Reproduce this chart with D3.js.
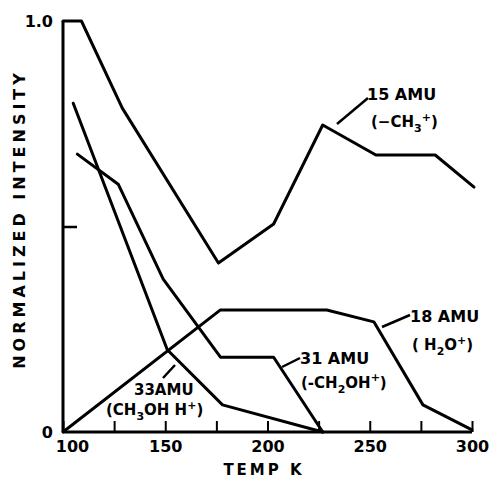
<!DOCTYPE html>
<html>
<head>
<meta charset="utf-8">
<script src="https://cdn.jsdelivr.net/npm/d3@7"></script>
<style>
  html, body { margin: 0; padding: 0; background: #fff; }
  svg { display: block; font-family: 'DejaVu Sans', sans-serif; font-weight: bold; }
</style>
</head>
<body>
<div id="chart"></div>
<script>
const W = 491, H = 479
const MARGIN = { top: 21, right: 19, bottom: 47, left: 63 }

// values (temperature K, normalized intensity)
const amu15T = [100, 109, 129, 176, 203, 227, 253, 282, 301]
const amu15I = [1.0, 1.0, 0.788, 0.411, 0.506, 0.747, 0.674, 0.674, 0.596]

const amu31T = [107, 127, 149, 177, 203, 227]
const amu31I = [0.676, 0.603, 0.372, 0.182, 0.182, 0.0]

const amu33T = [105, 151, 178, 227]
const amu33I = [0.80, 0.20, 0.066, 0.0]

const amu18T = [100, 177, 229, 252, 276, 300]
const amu18I = [0.0, 0.297, 0.297, 0.268, 0.066, 0.005]

const xTicks = [100, 125, 150, 175, 200, 225, 250, 275, 300]
const xLabels = [100, 150, 200, 250, 300]
const yTicks = [0, 0.5, 1.0]
const yLabels = { 0: '0', 1: '1.0' }

const innerW = W - MARGIN.left - MARGIN.right
const innerH = H - MARGIN.top - MARGIN.bottom

const x = d3.scaleLinear().domain([100, 300]).range([0, innerW])
const y = d3.scaleLinear().domain([0, 1]).range([innerH, 0])

const svg = d3.select('#chart').append('svg')
  .attr('width', W).attr('height', H)

const g = svg.append('g')
  .attr('transform', `translate(${MARGIN.left},${MARGIN.top})`)

// axes: ticks point inward like the original
g.append('g')
  .attr('transform', `translate(0,${innerH})`)
  .call(d3.axisBottom(x).tickValues(xTicks).tickSize(-11).tickPadding(9)
    .tickFormat(d => xLabels.includes(d) ? String(d) : ''))
  .call(sel => sel.select('.domain').attr('stroke-width', 3).attr('d', `M0,0H${innerW}`))
  .call(sel => sel.selectAll('.tick line').attr('stroke-width', 2))
  .call(sel => sel.selectAll('text').attr('font-size', 16).attr('font-family', 'DejaVu Sans').attr('font-weight', 'bold').attr('fill', '#000'))
  .call(sel => sel.selectAll('.tick').filter(d => d === 100).select('text').attr('dx', 9))

g.append('g')
  .call(d3.axisLeft(y).tickValues(yTicks).tickSize(-14).tickPadding(10)
    .tickFormat(d => yLabels[d] || ''))
  .call(sel => sel.select('.domain').attr('stroke-width', 3).attr('d', `M0,${innerH}V0`))
  .call(sel => sel.selectAll('.tick line').attr('stroke-width', 2.5).attr('x2', d => d === 0.5 ? 14 : 0))
  .call(sel => sel.selectAll('text').attr('font-size', 16).attr('font-family', 'DejaVu Sans').attr('font-weight', 'bold').attr('fill', '#000'))

// axis titles
svg.append('text')
  .attr('x', 264).attr('y', 475)
  .attr('text-anchor', 'middle')
  .attr('font-size', 15).attr('letter-spacing', 3)
  .text('TEMP K')

svg.append('text')
  .attr('transform', 'translate(25,219) rotate(-90)')
  .attr('text-anchor', 'middle')
  .attr('font-size', 16).attr('letter-spacing', 4)
  .text('NORMALIZED INTENSITY')

// curves
const line = d3.line().x(d => x(d[0])).y(d => y(d[1]))
const series = [
  [amu15T, amu15I],
  [amu31T, amu31I],
  [amu33T, amu33I],
  [amu18T, amu18I]
]
series.forEach(([ts, vs]) => {
  g.append('path')
    .attr('d', line(ts.map((t, i) => [t, vs[i]])))
    .attr('fill', 'none')
    .attr('stroke', '#000')
    .attr('stroke-width', 3)
    .attr('stroke-linejoin', 'round')
    .attr('stroke-linecap', 'round')
})

// annotations
function leader(x1, y1, x2, y2) {
  svg.append('line')
    .attr('x1', x1).attr('y1', y1).attr('x2', x2).attr('y2', y2)
    .attr('stroke', '#000').attr('stroke-width', 2.5)
}

// parts: plain text, or {t, dy, small} to shift up/down relative to the previous part
function label(px, py, parts, size) {
  const t = svg.append('text').attr('x', px).attr('y', py).attr('font-size', size || 15)
  parts.forEach(p => {
    const s = t.append('tspan').text(p.t)
    if (p.small) s.attr('font-size', 11)
    if (p.dy) s.attr('dy', p.dy)
  })
}

leader(337, 124, 368, 98)
label(367, 100, [{ t: '15 AMU' }], 16)
label(371, 127, [{ t: '(−CH' }, { t: '3', small: true, dy: 5 }, { t: '+', small: true, dy: -11 }, { t: ')', dy: 6 }])

leader(382, 327, 410, 315)
label(410, 322, [{ t: '18 AMU' }], 16)
label(412, 350, [{ t: '( H' }, { t: '2', small: true, dy: 5 }, { t: 'O', dy: -5 }, { t: '+', small: true, dy: -6 }, { t: ')', dy: 6 }])

leader(282, 367, 300, 358)
label(300, 364, [{ t: '31 AMU' }], 16)
label(301, 388, [{ t: '(-CH' }, { t: '2', small: true, dy: 5 }, { t: 'OH', dy: -5 }, { t: '+', small: true, dy: -7 }, { t: ')', dy: 7 }])

leader(163, 378, 175, 365)
label(134, 395, [{ t: '33AMU' }])
label(106, 415, [{ t: '(CH' }, { t: '3', small: true, dy: 5 }, { t: 'OH H', dy: -5 }, { t: '+', small: true, dy: -6 }, { t: ')', dy: 6 }])
</script>
</body>
</html>
